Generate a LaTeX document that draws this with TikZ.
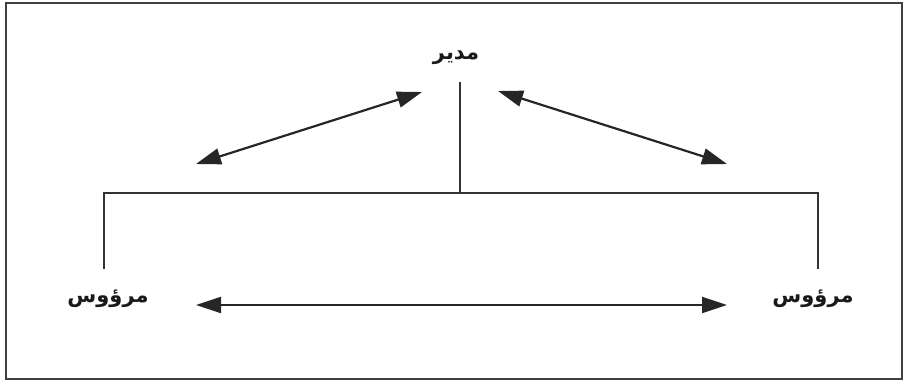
\documentclass[tikz,border=0pt]{standalone}
\usepackage{fontspec}
\newfontfamily\arabicfont[Script=Arabic]{DejaVu Sans}
\TeXXeTstate=1
\usetikzlibrary{arrows.meta}
\tikzset{
  lbl/.style={font=\arabicfont\bfseries\fontsize{21}{24}\selectfont, inner sep=1pt, text=black!90},
  conn/.style={line width=2.2pt, draw=black!80},
  twoway/.style={line width=2.2pt, draw=black!85, {Triangle[length=25pt,width=16pt]}-{Triangle[length=25pt,width=16pt]}},
}
\begin{document}
\begin{tikzpicture}[x=1pt,y=-1pt]
\useasboundingbox (0,0) rectangle (906,385);
\draw[line width=2.6pt, draw=black!75] (6,3) rectangle (902,379);
\node[lbl] (boss) at (456,58) {\beginR مدير\endR};
\node[lbl] (subL) at (108,299) {\beginR مرؤوس\endR};
\node[lbl] (subR) at (813,299) {\beginR مرؤوس\endR};
\coordinate (top) at (460,82);
\coordinate (mid) at (460,193);
\coordinate (cL) at (104,193);
\coordinate (cR) at (818,193);
\coordinate (bL) at (104,269);
\coordinate (bR) at (818,269);
\draw[conn] (top) -- (mid);
\draw[conn] (bL) -- (cL) -- (cR) -- (bR);
\coordinate (aL1) at (196,164);
\coordinate (aL2) at (422,92);
\coordinate (aR1) at (498,91);
\coordinate (aR2) at (727,164);
\coordinate (hL) at (196,305);
\coordinate (hR) at (727,305);
\draw[twoway] (aL1) -- (aL2);
\draw[twoway] (aR1) -- (aR2);
\draw[twoway] (hL) -- (hR);
\end{tikzpicture}
\end{document}
